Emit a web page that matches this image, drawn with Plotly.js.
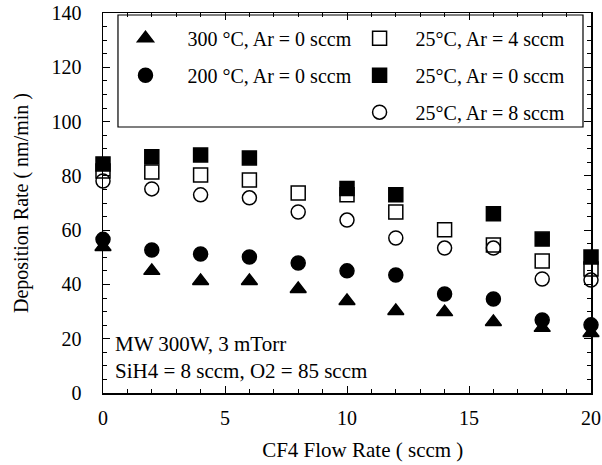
<!DOCTYPE html>
<html>
<head>
<meta charset="utf-8">
<script src="https://cdn.plot.ly/plotly-3.0.1.min.js"></script>
<style>html,body{margin:0;padding:0;background:#fff;}#chart{width:602px;height:465px;}</style>
</head>
<body>
<div id="chart"></div>
<script>
// CF4 flow rate (sccm)
const flowAll = [0, 2, 4, 6, 8, 10, 12, 14, 16, 18, 20];
const flowFilledSq = [0, 2, 4, 6, 10, 12, 16, 18, 20];
// Deposition rate (nm/min)
const rate300C_Ar0 = [53.8, 45.0, 41.3, 41.3, 38.3, 33.9, 30.2, 29.8, 26.2, 24.0, 22.1];
const rate200C_Ar0 = [56.6, 52.7, 51.2, 50.1, 47.9, 45.0, 43.5, 36.5, 34.6, 26.9, 25.1];
const rate25C_Ar4 = [81.8, 81.4, 80.3, 78.5, 73.7, 73.0, 66.7, 60.1, 54.5, 48.6, 45.7];
const rate25C_Ar0 = [84.4, 87.0, 87.7, 86.6, 75.3, 73.0, 66.0, 56.7, 50.1];
const rate25C_Ar8 = [78.1, 75.2, 73.0, 71.9, 66.7, 63.7, 57.1, 53.4, 53.4, 42.0, 41.6];

const names = ['300 °C, Ar = 0 sccm', '200 °C, Ar = 0 sccm', '25°C, Ar = 4 sccm', '25°C, Ar = 0 sccm', '25°C, Ar = 8 sccm'];
const xTickVals = [0, 5, 10, 15, 20];
const yTickVals = [0, 20, 40, 60, 80, 100, 120, 140];

const FONT = 'Liberation Serif, Times New Roman, serif';
function tr(x, y, name, symbol, legend, group) {
  return {
    x: x, y: y, name: name, type: 'scatter', mode: 'markers',
    legend: legend, legendgroup: group,
    marker: {symbol: symbol, size: 14, color: '#000', line: {color: '#000', width: 1.5}},
    cliponaxis: false
  };
}
const data = [
  tr(flowAll, rate300C_Ar0, names[0], 'triangle-up', 'legend', 'a'),
  tr(flowAll, rate200C_Ar0, names[1], 'circle', 'legend', 'b'),
  tr(flowAll, rate25C_Ar4, names[2], 'square-open', 'legend2', 'c'),
  tr(flowFilledSq, rate25C_Ar0, names[3], 'square', 'legend2', 'd'),
  tr(flowAll, rate25C_Ar8, names[4], 'circle-open', 'legend2', 'e')
];
const axisCommon = {
  showgrid: false, zeroline: false, showline: true, linecolor: '#000', linewidth: 1.5,
  mirror: 'ticks', ticks: 'inside', ticklen: 7, tickwidth: 1, tickcolor: '#000',
  tickfont: {family: FONT, size: 20, color: '#000'}
};
const legCommon = {
  bgcolor: 'rgba(0,0,0,0)', borderwidth: 0, font: {family: FONT, size: 20, color: '#000'},
  xanchor: 'left', yanchor: 'top', tracegroupgap: 8, traceorder: 'grouped'
};
const layout = {
  width: 602, height: 465,
  margin: {l: 103, r: 11, t: 13, b: 72},
  paper_bgcolor: '#fff', plot_bgcolor: '#fff',
  showlegend: true,
  xaxis: Object.assign({}, axisCommon, {
    range: [0, 20], tickvals: xTickVals, ticklabelstandoff: 6,
    minor: {dtick: 1, ticks: 'inside', ticklen: 4, tickcolor: '#000'},
    title: {text: '&nbsp;&nbsp;&nbsp;&nbsp;&nbsp;&nbsp;CF4 Flow Rate ( sccm )', font: {family: FONT, size: 21, color: '#000'}, standoff: 15}
  }),
  yaxis: Object.assign({}, axisCommon, {
    range: [0, 140], tickvals: yTickVals, ticklabelstandoff: 16,
    minor: {dtick: 5, ticks: 'inside', ticklen: 4, tickcolor: '#000'},
    title: {text: 'Deposition Rate ( nm/min )', font: {family: FONT, size: 20, color: '#000'}, standoff: 17}
  }),
  legend: Object.assign({}, legCommon, {x: 0.001, y: 0.985, itemwidth: 74}),
  legend2: Object.assign({}, legCommon, {x: 0.493, y: 0.985, itemwidth: 62}),
  shapes: [{type: 'rect', xref: 'paper', yref: 'paper', x0: 0.0307, x1: 0.9836, y0: 0.700, y1: 0.9947,
            line: {color: '#000', width: 1.2}, fillcolor: 'rgba(0,0,0,0)'}],
  annotations: [{
    xref: 'paper', yref: 'paper', x: 0.02, y: 0.02, xanchor: 'left', yanchor: 'bottom', align: 'left',
    showarrow: false, text: 'MW 300W, 3 mTorr<br>SiH4 = 8 sccm, O2 = 85 sccm',
    font: {family: FONT, size: 21, color: '#000'}
  }]
};
Plotly.newPlot('chart', data, layout, {displayModeBar: false, staticPlot: true});
</script>
</body>
</html>
